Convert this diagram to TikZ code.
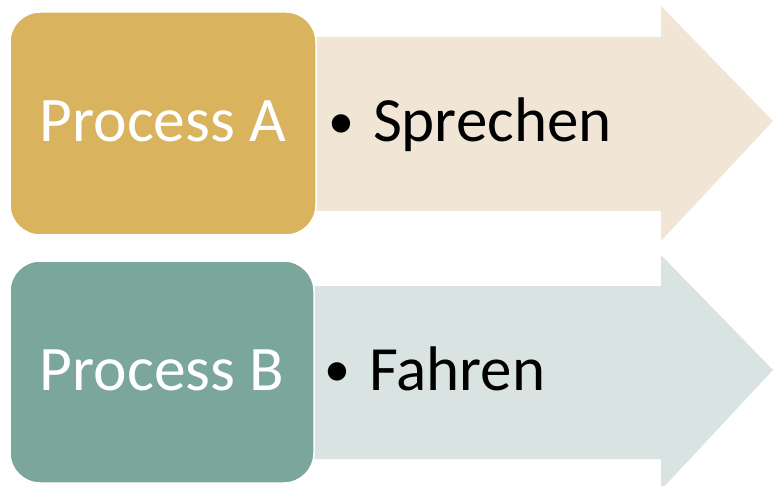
\documentclass[tikz,border=0pt]{standalone}
\usepackage{fontspec}
\setmainfont{Carlito}
\definecolor{goldbox}{RGB}{217,179,94}
\definecolor{goldarrow}{RGB}{241,229,214}
\definecolor{tealbox}{RGB}{123,166,156}
\definecolor{tealarrow}{RGB}{217,227,225}
\newcommand{\itembullet}{\raisebox{3.5pt}{\fontsize{52}{52}\selectfont•}}
\begin{document}
\begin{tikzpicture}[x=1pt,y=-1pt,
  procbox/.style={draw=white,line width=1.5pt,rounded corners=30pt},
  proclabel/.style={anchor=base,inner sep=0pt,text=white,font=\fontsize{63.5}{70}\selectfont},
  itemlabel/.style={anchor=base west,inner sep=0pt,text=black,font=\fontsize{63}{70}\selectfont}]
\useasboundingbox (0,0) rectangle (773,486);
\begin{scope}
\clip (0,0) rectangle (773,486);
% arrows behind the boxes
\fill[goldarrow] (300,37) -- (661,37) -- (661,6) -- (773,121) -- (661,241) -- (661,211) -- (300,211) -- cycle;
\fill[tealarrow] (300,286) -- (661,286) -- (661,255) -- (773,370) -- (661,490) -- (661,459) -- (300,459) -- cycle;
\end{scope}
% process boxes
\draw[procbox,fill=goldbox] (10,12) rectangle (316,235);
\draw[procbox,fill=tealbox] (10,261) rectangle (314,483);
\node[proclabel] (pa) at (163,142) {Process A};
\node[proclabel] (pb) at (162,390) {Process B};
% bullet items
\node[itemlabel] (ia) at (328,142) {\itembullet\hspace{0.3em}Sprechen};
\node[itemlabel] (ib) at (324,390) {\itembullet\hspace{0.3em}Fahren};
\end{tikzpicture}
\end{document}
